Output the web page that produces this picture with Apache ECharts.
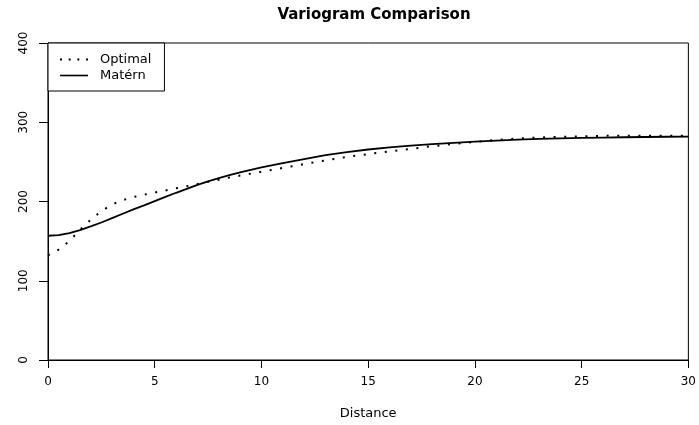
<!DOCTYPE html>
<html>
<head>
<meta charset="utf-8">
<script src="https://cdn.jsdelivr.net/npm/echarts@6/dist/echarts.min.js"></script>
<style>html,body{margin:0;padding:0;background:#fff}#c{width:699px;height:425px}</style>
</head>
<body>
<div id="c"></div>
<script>
var chartTitle = 'Variogram Comparison';
var xAxisName = 'Distance';
var seriesNames = ['Optimal', 'Matérn'];
var distances = [0, 0.5, 1, 1.5, 2, 2.5, 3, 3.5, 4, 4.5, 5, 5.5, 6, 6.5, 7, 7.5, 8, 8.5, 9, 9.5, 10, 11, 12, 13, 14, 15, 16, 17, 18, 19, 20, 21, 22, 23, 24, 25, 26, 27, 28, 29, 30];
var optimalValues = [132, 139.3, 150, 164.3, 177, 187.8, 196.2, 201.7, 205.6, 208.6, 211.3, 213.9, 216.6, 219.3, 222, 224.9, 227.5, 230.2, 232.7, 235.2, 237.5, 242.4, 247.2, 251.8, 256.2, 259.8, 263.2, 266.4, 269.8, 272.6, 275.3, 277.7, 279.5, 280.7, 281.5, 282.3, 282.8, 283, 283.1, 283.1, 283.1];
var maternValues = [156.8, 157.6, 160, 163.8, 168.5, 173.5, 179, 184.5, 190, 195.2, 200.5, 205.8, 211, 216, 221, 225.5, 229.5, 233.3, 236.8, 240, 243, 248.5, 253.5, 258.5, 262.3, 265.6, 268.3, 270.5, 272.4, 274.1, 275.6, 276.9, 278, 278.9, 279.6, 280.2, 280.7, 281.1, 281.4, 281.7, 281.9];
var xTicks = [0, 5, 10, 15, 20, 25, 30];
var yTicks = [0, 100, 200, 300, 400];

function pairs(xs, ys) { return xs.map(function (x, i) { return [x, ys[i]]; }); }

var font = 'DejaVu Sans, Liberation Sans, Arial, sans-serif';
var dottedIcon = 'path://M0,0h2v2h-2z M8.7,0h2v2h-2z M17.4,0h2v2h-2z M26.1,0h2v2h-2z';
var solidIcon = 'path://M0,0h28v1.6h-28z';
var chart = echarts.init(document.getElementById('c'), null, {renderer: 'canvas'});
chart.setOption({
  animation: false,
  backgroundColor: '#fff',
  title: {
    text: chartTitle, left: 369, top: 3, textAlign: 'center',
    textStyle: {fontFamily: font, fontWeight: 'bold', fontSize: 15, color: '#000'}
  },
  grid: {left: 48, right: 8, top: 43, bottom: 62, show: true, borderColor: '#000', borderWidth: 1, backgroundColor: 'transparent'},
  legend: {
    orient: 'vertical', left: 48, top: 43,
    padding: [10, 13, 9, 12], itemGap: 3, itemWidth: 28, itemHeight: 14,
    borderColor: '#000', borderWidth: 1, backgroundColor: '#fff',
    symbolKeepAspect: true,
    data: [
      {name: seriesNames[0], icon: dottedIcon, itemStyle: {color: '#000'}},
      {name: seriesNames[1], icon: solidIcon, itemStyle: {color: '#000'}}
    ],
    textStyle: {fontFamily: font, fontSize: 13, color: '#000', width: 55, padding: [0, 0, 0, 7]}
  },
  xAxis: {
    type: 'value', min: xTicks[0], max: xTicks[xTicks.length - 1], interval: 5,
    name: xAxisName, nameLocation: 'middle', nameGap: 47,
    nameTextStyle: {fontFamily: font, fontSize: 13, color: '#000'},
    axisLine: {show: true, onZero: false, lineStyle: {color: '#000', width: 1}},
    axisTick: {show: true, length: 8, lineStyle: {color: '#000'}},
    axisLabel: {fontFamily: font, fontSize: 12, color: '#000', margin: 16},
    splitLine: {show: false}
  },
  yAxis: {
    type: 'value', min: yTicks[0], max: yTicks[yTicks.length - 1], interval: 100,
    axisLine: {show: true, onZero: false, lineStyle: {color: '#000', width: 1}},
    axisTick: {show: true, length: 9, lineStyle: {color: '#000'}},
    axisLabel: {fontFamily: font, fontSize: 12, color: '#000', rotate: 90, margin: 18},
    splitLine: {show: false}
  },
  series: [
    {
      name: seriesNames[0], type: 'line', data: pairs(distances, optimalValues),
      symbol: 'none', smooth: false, color: '#000',
      lineStyle: {color: '#000', width: 2, type: [2, 8.6], cap: 'butt'}
    },
    {
      name: seriesNames[1], type: 'line', data: pairs(distances, maternValues),
      symbol: 'none', smooth: false, color: '#000',
      lineStyle: {color: '#000', width: 1.8, type: 'solid'}
    }
  ]
});
</script>
</body>
</html>
